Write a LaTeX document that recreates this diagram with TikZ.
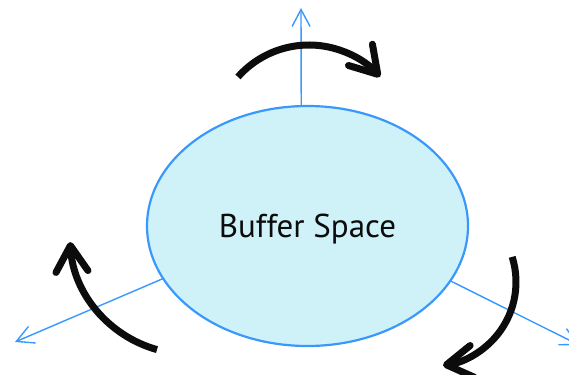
\documentclass[tikz,border=0pt]{standalone}
\usepackage{fontspec}
\setmainfont{PT Sans}
\usetikzlibrary{shapes.geometric,arrows.meta}
\definecolor{bufblue}{RGB}{58,152,252}
\definecolor{buffill}{RGB}{206,242,247}
\definecolor{ink}{RGB}{12,12,12}
\tikzset{
  bufnode/.style={ellipse, draw=bufblue, line width=2.2pt, fill=buffill,
    inner sep=0pt, outer sep=0pt, minimum width=321pt, minimum height=240pt,
    text=ink, font=\fontsize{33}{39}\selectfont,
    text height=23pt, text depth=0pt},
  axis/.style={draw=bufblue, line width=1.4pt,
    -{Straight Barb[length=17pt, width=18pt]}},
  turn/.style={draw=ink, line width=7pt,
    -{Straight Barb[length=26pt, width=32pt, round]}}
}
\begin{document}
\begin{tikzpicture}[x=1pt, y=1pt]
  \clip (0,0) rectangle (569,374);

  % the buffer region
  \node[bufnode] (buf) at (307.5,148) {Buffer Space};

  % the three axes leaving the buffer
  \coordinate (topend) at (301,366);
  \coordinate (leftend) at (15,32);
  \coordinate (rightend) at (579,29);
  \draw[axis] (buf.93) -- (topend);
  \draw[axis] (buf.200) -- (leftend);
  \draw[axis] (buf.339) -- (rightend);

  % rotation arrows about each axis
  \coordinate (ctop) at (309,234);
  \coordinate (cleft) at (189,139);
  \coordinate (cright) at (432,92);
  \draw[turn] ([shift={(138.4:95)}]ctop) arc[start angle=138.4, end angle=41.6, radius=95];
  \draw[turn] ([shift={(254.4:119)}]cleft) arc[start angle=254.4, end angle=183.4, radius=119];
  \draw[turn] ([shift={(17.4:84)}]cright) arc[start angle=17.4, end angle=-82.5, radius=84];
\end{tikzpicture}
\end{document}
